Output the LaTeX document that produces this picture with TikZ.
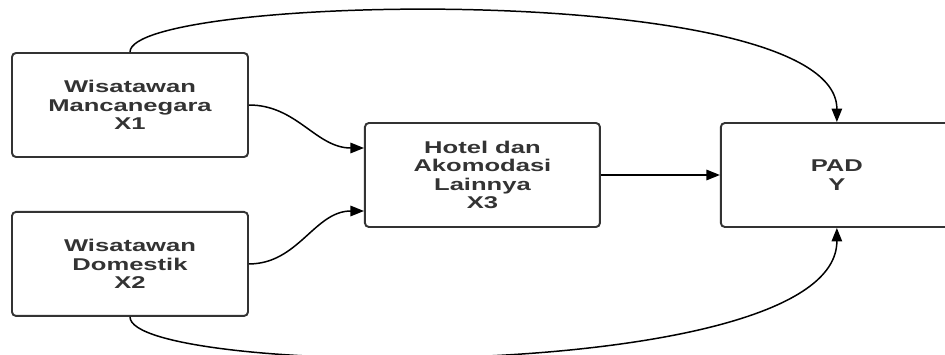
\documentclass[tikz,border=0pt]{standalone}
\usepackage{fontspec}
\usepackage{xcolor}
\usepackage{tikz}
\usetikzlibrary{positioning,arrows.meta}
\newfontfamily\boxfont[FakeStretch=1.5]{Liberation Sans}
\definecolor{linegray}{HTML}{333333}

\begin{document}
\begin{tikzpicture}[node distance=2cm, auto]
        % Define styles
        \tikzstyle{varbox} = [rectangle, rounded corners=0.08cm, minimum width=4.72cm, minimum height=2.08cm, text centered, align=center, draw=linegray, line width=1.1pt, fill=white, text=linegray, font=\boxfont\bfseries\fontsize{9.7}{10.4}\selectfont]
        \tikzstyle{arrow} = [line width=0.85pt, draw=black, -{Triangle[length=0.27cm, width=0.21cm]}]

        \useasboundingbox (0,0) rectangle (18.9,-7.1);

        % Nodes
        \node [varbox] (wisman) at (2.6,-2.1) {Wisatawan\\Mancanegara\\X1};
        \node [varbox, below=1.06cm of wisman] (wisdom) {Wisatawan\\Domestik\\X2};
        \node [varbox, below right=1.4cm and 2.3cm of wisman.north east, anchor=north west, minimum width=4.7cm] (hotel) {Hotel dan\\Akomodasi\\Lainnya\\X3};
        \node [varbox, right=2.38cm of hotel, minimum width=4.64cm] (pad) {PAD\\Y};

        % Arrows
        \draw [arrow] (wisman.east) to[out=0, in=180] ([yshift=0.54cm]hotel.west);
        \draw [arrow] (wisdom.east) to[out=0, in=180] ([yshift=-0.72cm]hotel.west);
        \draw [arrow] (hotel) -- (pad);
        \draw [arrow] (wisman.north) .. controls +(0,1.16) and +(0,2.86) .. (pad.north);
        \draw [arrow] (wisdom.south) .. controls +(0,-1.2) and +(0,-3.18) .. (pad.south);
    \end{tikzpicture}
\end{document}
